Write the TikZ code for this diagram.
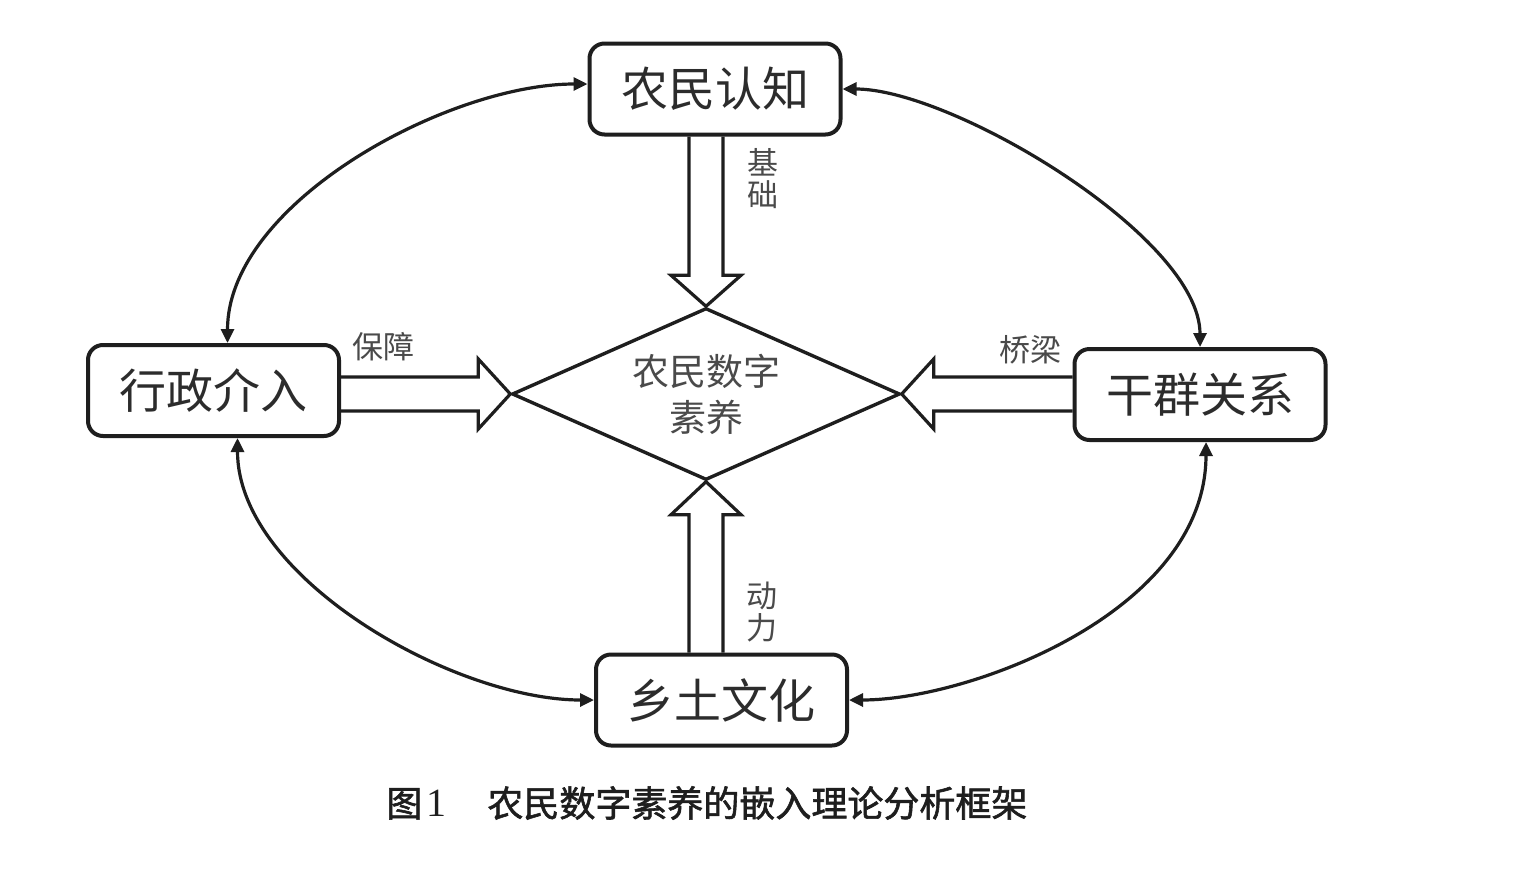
\documentclass[tikz,border=0pt]{standalone}
\usepackage{fontspec}
\setmainfont{Noto Sans CJK SC}
\newfontfamily\numfont{Liberation Serif}
\newfontfamily\capfont{Noto Sans CJK SC}[FakeBold=1.6]
\usetikzlibrary{shapes.geometric,arrows.meta,calc}
\definecolor{inkline}{HTML}{1E1E1E}
\definecolor{inktext}{HTML}{2C2C2C}
\definecolor{inkgray}{HTML}{4A4A4A}
\tikzset{
  cbox/.style={draw=inkline, line width=2pt, rounded corners=7.5pt, minimum width=125.5pt, minimum height=45.5pt, inner sep=0pt, text=inktext, font=\fontsize{23.5}{28}\selectfont},
  core/.style={draw=inkline, line width=1.7pt, shape=diamond, aspect=2.26, minimum width=194pt, minimum height=86pt, inner sep=0pt, align=center, text=inkgray, font=\fontsize{18.5}{23}\selectfont},
  hollow/.style={draw=inkline, line width=1.6pt, line join=miter},
  link/.style={draw=inkline, line width=1.6pt, <->, >={Triangle[length=7pt,width=6.5pt]}},
  lbl/.style={text=inkgray, font=\fontsize{15.5}{16}\selectfont, inner sep=0pt, align=center}
}
\begin{document}
\begin{tikzpicture}[x=0.5pt, y=-0.5pt]
\fill[white] (0,0) rectangle (1527,895);
\node[cbox] (nm) at (715,89){农民认知};
\node[cbox] (xz) at (213.5,390.5){行政介入};
\node[cbox] (gq) at (1200,394.5){干群关系};
\node[cbox] (xt) at (721.5,700){乡土文化};
\node[core] (dm) at (706,394){农民数字\\素养};
\coordinate (ta) at ($(dm.north)+(-17,-31)$);
\coordinate (tb) at ($(dm.north)+(17,-31)$);
\draw[hollow] (ta |- nm.south) -- (ta) -- ++(-18,0) -- (dm.north) -- ++(35,-31) -- (tb) -- (tb |- nm.south);
\coordinate (ba) at ($(dm.south)+(-17,33)$);
\coordinate (bb) at ($(dm.south)+(17,33)$);
\draw[hollow] (ba |- xt.north) -- (ba) -- ++(-18,0) -- (dm.south) -- ++(35,33) -- (bb) -- (bb |- xt.north);
\coordinate (la) at ($(dm.west)+(-32,-17)$);
\coordinate (lb) at ($(dm.west)+(-32,17)$);
\draw[hollow] (la -| xz.east) -- (la) -- ++(0,-18) -- (dm.west) -- ++(-32,35) -- (lb) -- (lb -| xz.east);
\coordinate (ra) at ($(dm.east)+(32,-17)$);
\coordinate (rb) at ($(dm.east)+(32,17)$);
\draw[hollow] (ra -| gq.west) -- (ra) -- ++(0,-18) -- (dm.east) -- ++(32,35) -- (rb) -- (rb -| gq.west);
\node[lbl] (jc) at (763,179){基\\础};
\node[lbl] (dl) at (762,612){动\\力};
\node[lbl] (bz) at (383,347){保障};
\node[lbl] (ql) at (1030,350){桥梁};
\draw[link] ([xshift=7pt]xz.north) .. controls +(0,-140) and +(-140,0) .. ([yshift=2.5pt]nm.west);
\draw[link] (nm.east) .. controls +(110,0) and +(0,-110) .. (gq.north);
\draw[link] ([xshift=12pt]xz.south) .. controls +(0,140) and +(-140,0) .. (xt.west);
\draw[link] ([xshift=3pt]gq.south) .. controls +(0,170) and +(120,0) .. (xt.east);
\node[anchor=west, inner sep=0pt, text=inkline, font=\fontsize{18}{20}\selectfont] (cap) at (386,803){\capfont 图\hspace{2pt}{\numfont\fontsize{20}{20}\selectfont 1}\hspace{20.5pt}农民数字素养的嵌入理论分析框架};
\end{tikzpicture}
\end{document}
